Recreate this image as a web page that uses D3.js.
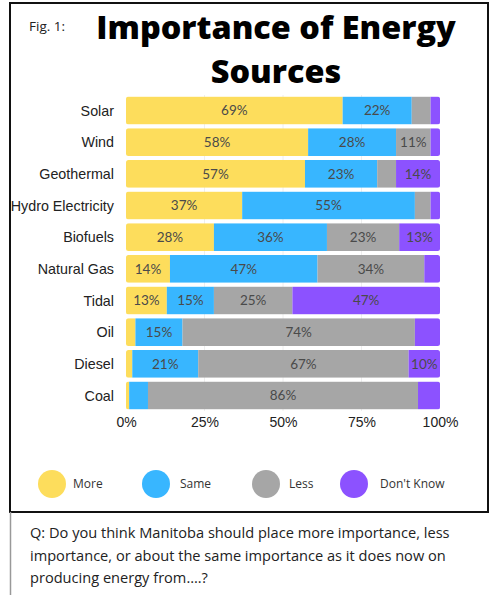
<!DOCTYPE html>
<html>
<head>
    <meta charset="utf-8">
    <title>Importance of Energy Sources</title>
    <style>
        body { margin: 0; background: #fff; }
        svg { display: block; }
    </style>
</head>
<body>
    <script src="https://d3js.org/d3.v7.min.js"></script>
    <script>
        // data (percent of respondents)
        var sources = ["Solar", "Wind", "Geothermal", "Hydro Electricity", "Biofuels",
                       "Natural Gas", "Tidal", "Oil", "Diesel", "Coal"];
        var more     = [69, 58, 57, 37, 28, 14, 13, 3, 2, 1];
        var same     = [22, 28, 23, 55, 36, 47, 15, 15, 21, 6];
        var less     = [6, 11, 6, 5, 23, 34, 25, 74, 67, 86];
        var dontKnow = [3, 3, 14, 3, 13, 5, 47, 8, 10, 7];
        var answers = ["More", "Same", "Less", "Don't Know"];
        var colors = ["#fddd5c", "#38b6ff", "#a6a6a6", "#8c52ff"];
        var ticks = [0, 25, 50, 75, 100];

        var width = 490, height = 595;
        var x = d3.scaleLinear().domain([0, 100]).range([126, 440]);
        var y = d3.scaleBand().domain(sources).range([95, 411]).paddingInner(0.12).paddingOuter(0.05);

        var svg = d3.select("body").append("svg")
            .attr("width", width)
            .attr("height", height);

        // frame
        svg.append("rect")
            .attr("x", 10).attr("y", 3)
            .attr("width", 478).attr("height", 509)
            .attr("fill", "none").attr("stroke", "#111").attr("stroke-width", 2);
        svg.append("line")
            .attr("x1", 10.5).attr("x2", 10.5).attr("y1", 512).attr("y2", 595)
            .attr("stroke", "#999").attr("stroke-width", 1.5);

        svg.append("text")
            .attr("x", 29).attr("y", 31)
            .style("font-family", "Open Sans").style("font-size", "13.5px").attr("fill", "#222")
            .text("Fig. 1:");
        svg.append("text")
            .attr("x", 276).attr("y", 39)
            .attr("text-anchor", "middle")
            .style("font-family", "Open Sans").style("font-weight", 800).style("font-size", "32.4px")
            .text("Importance of Energy");
        svg.append("text")
            .attr("x", 276).attr("y", 83)
            .attr("text-anchor", "middle")
            .style("font-family", "Open Sans").style("font-weight", 800).style("font-size", "32.4px")
            .text("Sources");

        // faint grid
        svg.append("g").selectAll("line")
            .data(ticks.slice(1, 4))
            .enter().append("line")
            .attr("x1", d => x(d)).attr("x2", d => x(d))
            .attr("y1", 95).attr("y2", 411)
            .attr("stroke", "#eee");

        var rows = sources.map(function(s, i) {
            return {source: s, values: [more[i], same[i], less[i], dontKnow[i]]};
        });

        var defs = svg.append("defs");
        rows.forEach(function(d, i) {
            defs.append("clipPath").attr("id", "row" + i)
                .append("rect")
                .attr("x", x(0)).attr("y", y(d.source))
                .attr("width", x(100) - x(0)).attr("height", y.bandwidth())
                .attr("rx", 2.5);
        });

        var row = svg.append("g").selectAll("g")
            .data(rows)
            .enter().append("g");

        row.each(function(d, i) {
            var g = d3.select(this);
            var bars = g.append("g").attr("clip-path", "url(#row" + i + ")");
            var acc = 0;
            d.values.forEach(function(v, k) {
                var x0 = acc;
                acc += v;
                bars.append("rect")
                    .attr("x", x(x0))
                    .attr("y", y(d.source))
                    .attr("width", x(acc) - x(x0))
                    .attr("height", y.bandwidth())
                    .attr("fill", colors[k]);
                if (v >= 10) {
                    g.append("text")
                        .attr("x", (x(x0) + x(acc)) / 2)
                        .attr("y", y(d.source) + y.bandwidth() / 2)
                        .attr("dy", "0.36em")
                        .attr("text-anchor", "middle")
                        .style("font-family", "Lato, sans-serif")
                        .style("font-size", "13.5px")
                        .attr("fill", "#4a4a4a")
                        .text(v + "%");
                }
            });
        });

        // category labels
        svg.append("g").selectAll("text")
            .data(sources)
            .enter().append("text")
            .attr("x", 114)
            .attr("y", d => y(d) + y.bandwidth() / 2)
            .attr("dy", "0.36em")
            .attr("text-anchor", "end")
            .style("font-family", "Liberation Sans, Arial, sans-serif")
            .style("font-size", "14.3px")
            .attr("fill", "#222")
            .text(d => d);

        // x axis
        var xAxis = d3.axisBottom(x).tickValues(ticks).tickSize(0).tickPadding(0)
            .tickFormat(d => d + "%");
        var ax = svg.append("g")
            .attr("transform", "translate(0,417)")
            .call(xAxis);
        ax.select(".domain").remove();
        ax.selectAll("text")
            .style("font-family", "Liberation Sans, Arial, sans-serif")
            .style("font-size", "14px")
            .attr("fill", "#222");

        // legend
        var legX = [52, 156, 266, 354];
        var legTextX = [73, 180, 289, 380];
        var leg = svg.append("g").selectAll("g")
            .data(answers)
            .enter().append("g");
        leg.append("circle")
            .attr("cx", (d, i) => legX[i]).attr("cy", 484)
            .attr("r", 14).attr("fill", (d, i) => colors[i]);
        leg.append("text")
            .attr("x", (d, i) => legTextX[i]).attr("y", 484).attr("dy", "0.36em")
            .style("font-family", "Open Sans").style("font-size", "12px")
            .attr("fill", "#333")
            .text(d => d);

        // question
        var qLines = ["Q: Do you think Manitoba should place more importance, less",
                      "importance, or about the same importance as it does now on",
                      "producing energy from\u2026.?"];
        svg.append("g").selectAll("text")
            .data(qLines)
            .enter().append("text")
            .attr("x", 30)
            .attr("y", (d, i) => 538 + i * 22.5)
            .style("font-family", "Open Sans").style("font-size", "14.6px")
            .attr("fill", "#222")
            .text(d => d);
    </script>
</body>
</html>
